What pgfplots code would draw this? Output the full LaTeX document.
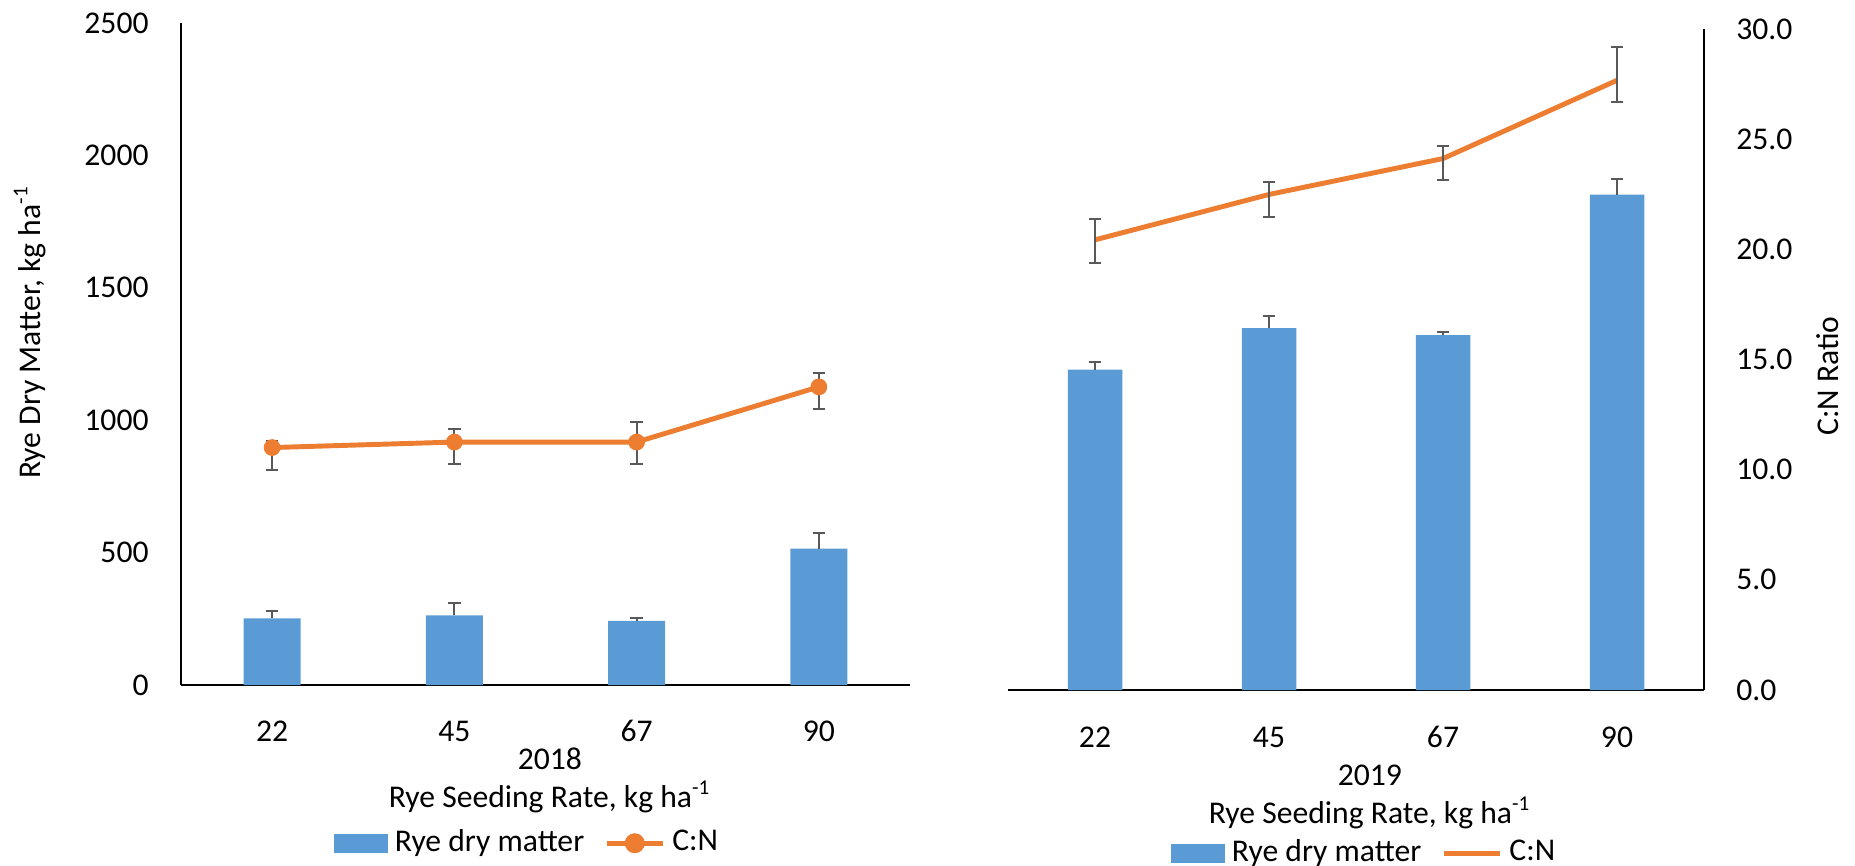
\documentclass[border=0pt]{standalone}
\usepackage{fontspec}
\setmainfont{Carlito}
\usepackage{pgfplots}
\pgfplotsset{compat=1.18}

\definecolor{barblue}{HTML}{5B9BD5}
\definecolor{cnorange}{HTML}{ED7D31}
\definecolor{errgray}{HTML}{595959}

\pgfplotsset{
  common/.style={
    scale only axis, anchor=south west,
    xmin=-0.5, xmax=3.5, xtick={0,1,2,3},
    major tick length=0,
    axis line style={line width=0.6pt, black},
    /pgf/number format/assume math mode=true,
    /pgf/number format/1000 sep={},
    font=\fontsize{9}{11}\selectfont,
    clip=false,
  },
  /pgfplots/error bars/errstyle/.style={
    error bar style={line width=0.6pt, errgray},
    error mark options={rotate=90, mark size=0.63mm, line width=0.6pt, errgray},
  },
  barlegend/.style={legend image code/.code={\fill[barblue] (0mm,-0.9mm) rectangle (5.2mm,0.9mm);}},
  leg/.style={legend style={draw=none, fill=none, legend columns=2, at={#1}, anchor=center,
      font=\fontsize{9}{11}\selectfont,
      /tikz/every even column/.append style={column sep=1.8mm},
      nodes={inner sep=0.6pt}, /tikz/every odd column/.append style={column sep=0.5mm}}},
}

\begin{document}
\begin{tikzpicture}[font=\fontsize{9}{11}\selectfont]
\useasboundingbox (0,0) rectangle (185.5mm,86.5mm);

% ---------- 2018 ----------
\begin{axis}[common, at={(18.1mm,18.0mm)}, width=72.9mm, height=66.2mm,
  ymin=0, ymax=2500, ytick={0,500,...,2500},
  axis x line*=bottom, axis y line*=left,
  xticklabels={22,45,67,90},
  xticklabel style={anchor=center, yshift=-4.6mm},
  yticklabel style={anchor=east, xshift=-2mm},
  xlabel={2018\\Rye Seeding Rate, kg ha\textsuperscript{-1}},
  xlabel style={align=center, at={(axis description cs:0.506,-0.144)}, anchor=center},
  ylabel={Rye Dry Matter, kg ha\textsuperscript{-1}},
  ylabel style={at={(axis description cs:-0.207,0.533)}, anchor=center}]
\addplot[ybar, bar width=5.7mm, fill=barblue, draw=none,
  error bars/.cd, y dir=plus, y explicit, errstyle]
  coordinates {(0,252) +- (0,27) (1,263) +- (0,46) (2,242) +- (0,12) (3,515) +- (0,60)};
\end{axis}
\begin{axis}[common, at={(18.1mm,18.0mm)}, width=72.9mm, height=66.2mm,
  ymin=0, ymax=30, hide axis, leg={(0.475,-0.239)}]
\addlegendimage{barlegend}
\addlegendentry{Rye dry matter}
\addplot[cnorange, line width=1.4pt, mark=*, mark size=0.75mm,
  mark options={fill=cnorange, draw=cnorange, line width=0.5pt},
  legend image code/.code={\draw[cnorange, line width=1.4pt] (0mm,0mm) -- (5.6mm,0mm);
    \fill[cnorange] (2.8mm,0mm) circle (0.75mm);},
  error bars/.cd, y dir=both, y explicit, errstyle]
  coordinates {(0,10.76) += (0,0.3) -= (0,1.0)
               (1,11.01) += (0,0.6) -= (0,1.0)
               (2,11.01) += (0,0.92) -= (0,1.0)
               (3,13.51) += (0,0.63) -= (0,1.0)};
\addlegendentry{C:N}
\end{axis}

% ---------- 2019 ----------
\begin{axis}[common, at={(100.8mm,17.5mm)}, width=69.6mm, height=66.1mm,
  ymin=0, ymax=2500,
  axis x line*=bottom, axis y line=none,
  xticklabels={22,45,67,90},
  xticklabel style={anchor=center, yshift=-4.7mm},
  xlabel={2019\\Rye Seeding Rate, kg ha\textsuperscript{-1}},
  xlabel style={align=center, at={(axis description cs:0.52,-0.162)}, anchor=center}]
\addplot[ybar, bar width=5.45mm, fill=barblue, draw=none,
  error bars/.cd, y dir=plus, y explicit, errstyle]
  coordinates {(0,1212) +- (0,30) (1,1369) +- (0,46) (2,1342) +- (0,12) (3,1874) +- (0,58)};
\end{axis}
\begin{axis}[common, at={(100.8mm,17.5mm)}, width=69.6mm, height=66.1mm,
  ymin=0, ymax=30, ytick={0,5,...,30},
  axis x line=none, axis y line*=right,
  yticklabel style={anchor=west, xshift=2mm,
    /pgf/number format/.cd, fixed, fixed zerofill, precision=1},
  ylabel={C:N Ratio},
  ylabel style={at={(axis description cs:1.178,0.475)}, anchor=center},
  leg={(0.512,-0.247)}]
\addlegendimage{barlegend}
\addlegendentry{Rye dry matter}
\addplot[cnorange, line width=1.4pt, mark=none,
  legend image code/.code={\draw[cnorange, line width=1.4pt] (0mm,0mm) -- (5.6mm,0mm);},
  error bars/.cd, y dir=both, y explicit, errstyle]
  coordinates {(0,20.43) += (0,0.96) -= (0,1.05)
               (1,22.49) += (0,0.58) -= (0,1.03)
               (2,24.12) += (0,0.55) -= (0,0.98)
               (3,27.67) += (0,1.53) -= (0,1.0)};
\addlegendentry{C:N}
\end{axis}
\end{tikzpicture}
\end{document}
